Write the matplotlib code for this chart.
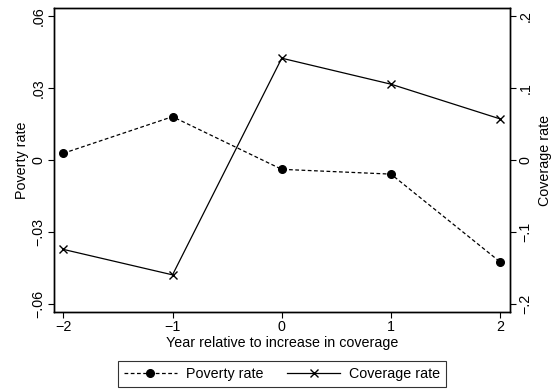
import matplotlib.pyplot as plt
from matplotlib.ticker import FixedLocator

plt.rcParams["font.family"] = ["Liberation Sans", "DejaVu Sans"]
plt.rcParams["axes.unicode_minus"] = True

years = [-2, -1, 0, 1, 2]
poverty = [0.0028, 0.0181, -0.0039, -0.0059, -0.0426]
coverage = [-0.1245, -0.160, 0.1418, 0.1056, 0.0572]

left_ticks = [-0.06, -0.03, 0, 0.03, 0.06]
left_labels = ["\u2212.06", "\u2212.03", "0", ".03", ".06"]
right_ticks = [-0.2, -0.1, 0, 0.1, 0.2]
right_labels = ["\u2212.2", "\u2212.1", "0", ".1", ".2"]
x_labels = ["\u22122", "\u22121", "0", "1", "2"]


def main():
    fig = plt.figure(figsize=(5.54, 3.89), dpi=100)
    ax = fig.add_axes([0.0975, 0.198, 0.8231, 0.7814])
    ax2 = ax.twinx()

    p1, = ax.plot(years, poverty, color="black", linestyle=(0, (3, 2)),
                  linewidth=0.9, marker="o", markersize=5.5, label="Poverty rate")
    p2, = ax2.plot(years, coverage, color="black", linestyle="-",
                   linewidth=0.9, marker="x", markersize=6, markeredgewidth=1,
                   label="Coverage rate")

    ax.set_xlim(-2.085, 2.09)
    ax.set_ylim(-0.0635, 0.0635)
    ax2.set_ylim(-0.2117, 0.2117)

    ax.xaxis.set_major_locator(FixedLocator(years))
    ax.set_xticklabels(x_labels, fontsize=10.3)
    ax.set_yticks(left_ticks)
    ax.set_yticklabels(left_labels, rotation=90, va="center", fontsize=10.3)
    ax2.set_yticks(right_ticks)
    ax2.set_yticklabels(right_labels, rotation=90, va="center", fontsize=10.3)

    for a in (ax, ax2):
        a.tick_params(direction="out", length=4, width=0.8, pad=2)
        for s in a.spines.values():
            s.set_linewidth(1.0)

    ax.set_xlabel("Year relative to increase in coverage", fontsize=10.3, labelpad=1)
    ax.set_ylabel("Poverty rate", fontsize=10.3, labelpad=2)
    ax2.set_ylabel("Coverage rate", fontsize=10.3, labelpad=4, rotation=90,
                   va="top")

    leg = fig.legend([p1, p2], ["Poverty rate", "Coverage rate"], loc="lower center",
                     bbox_to_anchor=(0.509, 0.005), borderaxespad=0, ncol=2,
                     fontsize=10.3, frameon=True, fancybox=False, handlelength=3.7,
                     columnspacing=1.7, borderpad=0.42, handletextpad=0.6)
    leg.get_frame().set_edgecolor("black")
    leg.get_frame().set_linewidth(0.8)

    fig.savefig("out.png", dpi=100)


if __name__ == "__main__":
    main()
